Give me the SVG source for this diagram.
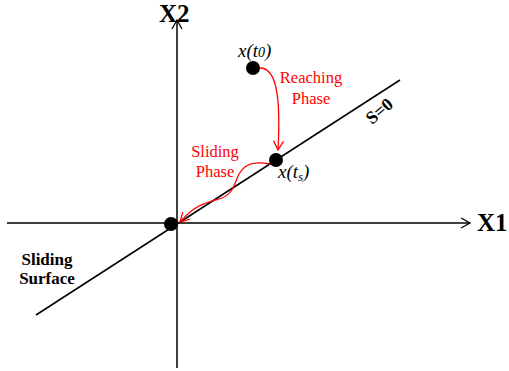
<svg xmlns="http://www.w3.org/2000/svg" width="509" height="371" viewBox="0 0 509 371">
<style>
.ax{stroke:#000;stroke-width:1.5;fill:none}
.rd{stroke:#f00;stroke-width:1.3;fill:none}
text{font-family:"Liberation Serif","Times New Roman","DejaVu Serif",serif}
.lbl{font-weight:bold;fill:#000}
.it{font-style:italic;font-size:19px;fill:#000}
.rt{font-size:16.5px;fill:#f00;text-anchor:middle}
</style>
<defs>
<marker id="ab" markerWidth="12" markerHeight="12" refX="10" refY="6" orient="auto" markerUnits="userSpaceOnUse">
<path d="M1,1 L10,6 L1,11" fill="none" stroke="#000" stroke-width="1.3"/>
</marker>
<marker id="ar" markerWidth="12" markerHeight="12" refX="10" refY="6" orient="auto" markerUnits="userSpaceOnUse">
<path d="M1,1 L10,6 L1,11" fill="none" stroke="#f00" stroke-width="1.3"/>
</marker>
</defs>
<g id="connectors">
<line class="ax" x1="7" y1="223" x2="470" y2="223" marker-end="url(#ab)"/>
<line class="ax" x1="177" y1="368" x2="177" y2="20" marker-end="url(#ab)"/>
<line class="ax" x1="36" y1="315" x2="400" y2="80"/>
<path class="rd" d="M260,68 C276,68 281,95 278,150" marker-end="url(#ar)"/>
<path class="rd" d="M270,164 C248,160 242,168 238,176 C234,186 232,194 222,198 C212,201 202,203 194,209 C188,213 185,217 180,222" marker-end="url(#ar)"/>
</g>
<g id="labels">
<text class="lbl" x="159" y="22" font-size="25" font-family="Liberation Serif, serif">X2</text>
<text class="lbl" x="477" y="231" font-size="25" font-family="Liberation Serif, serif">X1</text>
<text class="lbl" x="47" y="265" font-size="17" text-anchor="middle" font-family="Liberation Serif, serif">Sliding</text>
<text class="lbl" x="47" y="284" font-size="17" text-anchor="middle" font-family="Liberation Serif, serif">Surface</text>
<text class="lbl" x="372" y="125" font-size="18" transform="rotate(-40 372 125)" font-family="Liberation Serif, serif">S=0</text>
</g>
<g id="node-t0">
<circle cx="253" cy="68" r="7" fill="#000"/>
<text class="it" x="238" y="57" font-family="Liberation Serif, serif">x(t<tspan font-size="14">0</tspan>)</text>
</g>
<g id="node-ts">
<circle cx="276" cy="160" r="7" fill="#000"/>
<text class="it" x="278" y="178" font-family="Liberation Serif, serif">x(t<tspan font-size="13" dy="3">s</tspan><tspan dy="-3">)</tspan></text>
</g>
<g id="node-origin">
<circle cx="171" cy="224" r="7" fill="#000"/>
</g>
<g id="reaching">
<text class="rt" x="311" y="83" font-family="Liberation Serif, serif">Reaching</text>
<text class="rt" x="311" y="104" font-family="Liberation Serif, serif">Phase</text>
</g>
<g id="sliding">
<text class="rt" x="215" y="157" font-family="Liberation Serif, serif">Sliding</text>
<text class="rt" x="215" y="177" font-family="Liberation Serif, serif">Phase</text>
</g>
</svg>
